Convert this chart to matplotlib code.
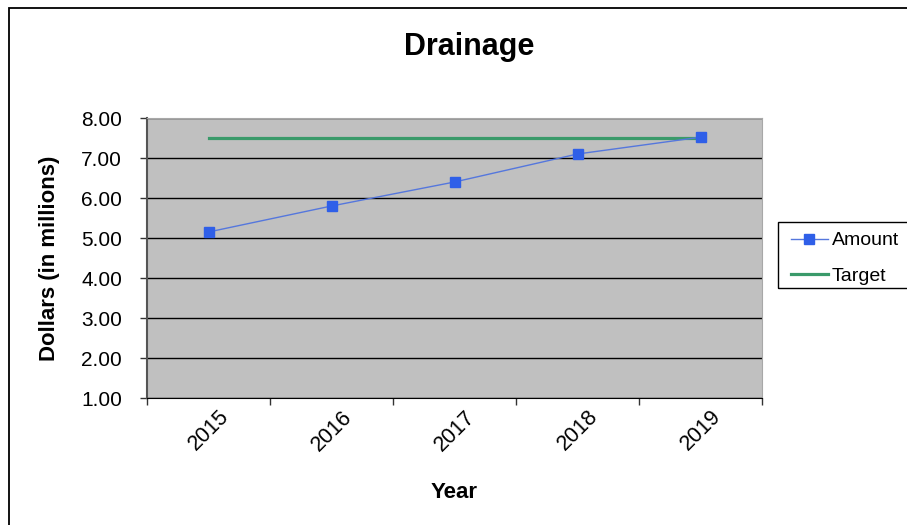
import numpy as np
import matplotlib
matplotlib.use("Agg")
import matplotlib.pyplot as plt
from matplotlib.patches import Rectangle

years = ['2015', '2016', '2017', '2018', '2019']
amount = [5.15, 5.8, 6.4, 7.1, 7.52]
target = [7.5, 7.5, 7.5, 7.5, 7.5]

plt.rcParams['font.family'] = ['Liberation Sans', 'DejaVu Sans']

W, H = 907, 525
fig = plt.figure(figsize=(W / 100, H / 100), dpi=100)
ax = fig.add_axes([147 / W, 1 - 398 / H, (762 - 147) / W, (398 - 118) / H])

# outer chart frame (right/bottom edges fall outside the picture)
fig.patches.append(Rectangle((9 / W, -0.1), 1.2, 1 - 8 / H + 0.1, transform=fig.transFigure,
                             fill=False, edgecolor='black', linewidth=1.3))

ax.set_facecolor('#C0C0C0')
x = np.arange(len(years))
ax.plot(x, target, color='#3A9A6A', linewidth=2.3, label='Target', zorder=3)
ax.plot(x, amount, color='#5577DD', linewidth=1.0, marker='s', markersize=6.5,
        markerfacecolor='#2F5FE8', markeredgecolor='#2F5FE8', label='Amount', zorder=4)

ax.set_xlim(-0.5, len(years) - 0.5)
ax.set_ylim(1, 8)
ax.set_yticks(np.arange(1, 9))
ax.set_yticklabels(['%.2f' % v for v in np.arange(1, 9)], fontsize=15)
ax.yaxis.grid(True, color='black', linewidth=1.0)
ax.set_axisbelow(True)

ax.set_xticks(np.arange(len(years) + 1) - 0.5)
ax.set_xticklabels([])
ax.set_xticks(x, minor=True)
ax.set_xticklabels(years, minor=True, rotation=45, ha='center', va='top', fontsize=15.5)
ax.tick_params(axis='x', which='minor', length=0, pad=6)
ax.tick_params(axis='x', which='major', length=5, width=1, color='#333333')
ax.tick_params(axis='y', length=5, width=1, color='#333333', pad=13)

for s in ['top', 'right']:
    ax.spines[s].set_color('#A8A8A8')
ax.spines['left'].set_color('#555555')
ax.spines['bottom'].set_color('black')
ax.spines['left'].set_linewidth(1.5)

ax.set_xlabel('Year', fontsize=16, fontweight='bold', labelpad=19)
ax.set_ylabel('Dollars (in millions)', fontsize=16, fontweight='bold', labelpad=15)
fig.text(469 / W, 1 - 47 / H, 'Drainage', fontsize=22, fontweight='bold', ha='center', va='center')

# legend box runs past the right edge of the picture
fig.patches.append(Rectangle((778 / W, 1 - 288 / H), 0.3, 66 / H, transform=fig.transFigure,
                             fill=False, edgecolor='black', linewidth=1.0))
h, l = ax.get_legend_handles_labels()
leg = fig.legend(h[::-1], l[::-1], loc='upper left', bbox_to_anchor=(785 / W, 1 - 226 / H),
                 fontsize=14, frameon=False, borderpad=0.3, handlelength=1.9,
                 handletextpad=0.2, labelspacing=0.9, borderaxespad=0)

fig.savefig('out.png', dpi=100, facecolor='white')
